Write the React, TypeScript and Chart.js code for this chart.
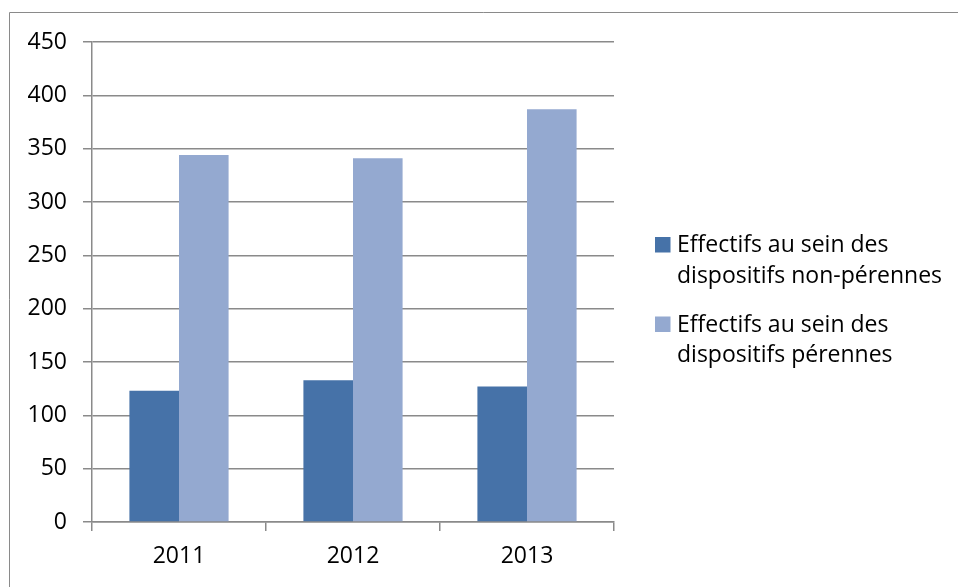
import React, { useEffect, useRef } from "react";
import { Chart, registerables } from "chart.js";

Chart.register(...registerables);

const categories = ["2011", "2012", "2013"];
const nonPerennes = [123, 133, 127];
const perennes = [344, 341, 387];
const legendLabels = [
  ["Effectifs au sein des", "dispositifs non-pérennes"],
  ["Effectifs au sein des", "dispositifs pérennes"],
];
const colors = ["#4672A8", "#94A9D0"];
const FONT = "'Open Sans', 'Liberation Sans', sans-serif";

const framePlugin = {
  id: "frame",
  beforeDraw(chart: any) {
    const ctx = chart.ctx;
    ctx.save();
    ctx.fillStyle = "#ffffff";
    ctx.fillRect(0, 0, chart.width, chart.height);
    ctx.strokeStyle = "#8a8a8a";
    ctx.lineWidth = 1;
    ctx.beginPath();
    ctx.moveTo(9.5, chart.height);
    ctx.lineTo(9.5, 12.5);
    ctx.lineTo(chart.width, 12.5);
    ctx.stroke();
    ctx.restore();
  },
};

const legendPlugin = {
  id: "customLegend",
  afterDraw(chart: any) {
    const ctx = chart.ctx;
    ctx.save();
    ctx.font = `23px ${FONT}`;
    ctx.textBaseline = "alphabetic";
    ctx.textAlign = "left";
    const x0 = 655;
    const baseY = [252, 331.5];
    chart.data.datasets.forEach((ds: any, i: number) => {
      const by = baseY[i];
      ctx.fillStyle = ds.backgroundColor;
      ctx.fillRect(x0, by - 15, 15.5, 15.5);
      ctx.fillStyle = "#000000";
      (ds.label as string[]).forEach((line: string, j: number) => {
        ctx.fillText(line, x0 + 22, by + j * 30.5);
      });
    });
    ctx.restore();
  },
};

export default function App() {
  const ref = useRef<HTMLCanvasElement | null>(null);
  useEffect(() => {
    if (!ref.current) return;
    const chart = new Chart(ref.current, {
      type: "bar",
      data: {
        labels: categories,
        datasets: [
          {
            label: legendLabels[0] as any,
            data: nonPerennes,
            backgroundColor: colors[0],
            categoryPercentage: 0.57,
            barPercentage: 1.0,
          },
          {
            label: legendLabels[1] as any,
            data: perennes,
            backgroundColor: colors[1],
            categoryPercentage: 0.57,
            barPercentage: 1.0,
          },
        ],
      },
      options: {
        animation: false,
        responsive: false,
        devicePixelRatio: 1,
        layout: { padding: { top: 42, right: 344, bottom: 0, left: 0 } },
        plugins: {
          legend: { display: false },
          tooltip: { enabled: false },
          title: { display: false },
        },
        scales: {
          x: {
            grid: {
              offset: true,
              drawOnChartArea: false,
              drawTicks: true,
              tickLength: 9,
              color: "#8a8a8a",
              lineWidth: 1.5,
            },
            border: { color: "#8a8a8a", width: 1.5 },
            ticks: {
              color: "#000000",
              font: { family: FONT, size: 23 },
              padding: 12,
              maxRotation: 0,
            },
            afterFit(scale: any) {
              scale.height = 65;
            },
          },
          y: {
            min: 0,
            max: 450,
            ticks: {
              stepSize: 50,
              color: "#000000",
              font: { family: FONT, size: 23 },
              padding: 16,
            },
            grid: {
              color: "#8a8a8a",
              lineWidth: 1.5,
              drawTicks: true,
              tickLength: 9,
            },
            border: { color: "#8a8a8a", width: 1.5 },
            afterFit(scale: any) {
              scale.width = 92;
            },
          },
        },
      },
      plugins: [framePlugin, legendPlugin],
    });
    return () => chart.destroy();
  }, []);
  return (
    <div style={{ position: "fixed", left: 0, top: 0, width: 958, height: 587, background: "#fff" }}>
      <canvas ref={ref} width={958} height={587} style={{ display: "block", width: 958, height: 587 }} />
    </div>
  );
}
